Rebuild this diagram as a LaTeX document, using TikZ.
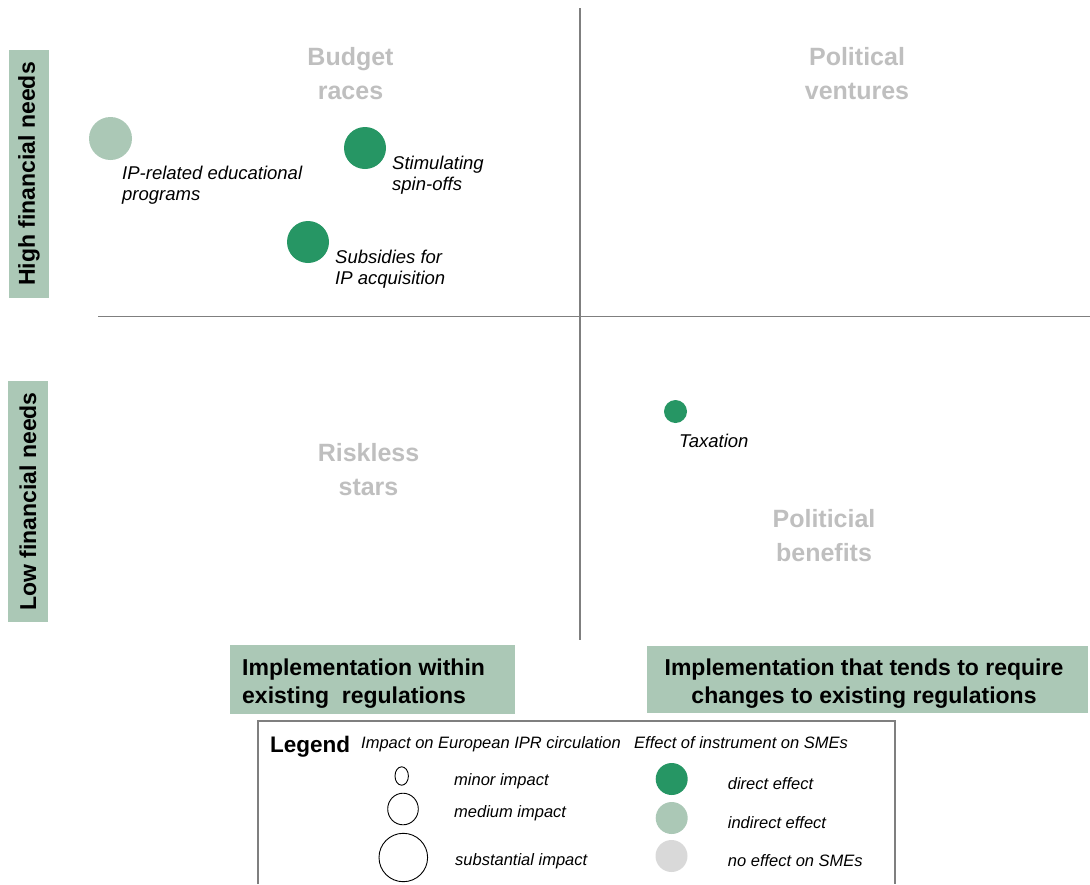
\documentclass[tikz,border=0pt]{standalone}
\usepackage{fontspec}
\setmainfont{Liberation Sans}
\usetikzlibrary{shapes.geometric}
\definecolor{darkgreen}{HTML}{269664}
\definecolor{boxgreen}{HTML}{ABC8B6}
\definecolor{nogray}{HTML}{D9D9D9}
\definecolor{titlegray}{HTML}{BFBFBF}
\definecolor{axisgray}{HTML}{7F7F7F}
\tikzset{
  dot/.style={circle, inner sep=0, draw=none},
  itlbl/.style={font=\fontsize{18.5}{21}\selectfont\itshape, anchor=base west, inner sep=0, align=left},
  quad/.style={font=\fontsize{25}{34}\selectfont\bfseries, text=titlegray, anchor=base, inner sep=0, align=center},
  sidebox/.style={fill=boxgreen, inner sep=0, rotate=90, font=\fontsize{23}{27}\selectfont\bfseries, minimum height=40},
  botbox/.style={fill=boxgreen, inner sep=0, anchor=north west},
  bottext/.style={font=\fontsize{23}{28}\selectfont\bfseries, inner sep=0},
  legit/.style={font=\fontsize{16.5}{19}\selectfont\itshape, anchor=base west, inner sep=0},
  ring/.style={ellipse, draw=black, line width=0.9, inner sep=0},
  axis/.style={draw=axisgray, line width=1.8},
}
\begin{document}
\begin{tikzpicture}[x=1pt,y=-1pt]
\useasboundingbox (0,0) rectangle (1090,884);
% axes
\coordinate (vtop) at (580,8);
\coordinate (vbot) at (580,640);
\coordinate (hl) at (98,316.5);
\coordinate (hr) at (1090,316.5);
\draw[axis] (vtop) -- (vbot);
\draw[axis] (hl) -- (hr);
% quadrant titles (anchor = baseline of last line)
\node[quad] (qbr) at (350.5,99.5) {Budget\\races};
\node[quad] (qpv) at (857,99.5) {Political\\ventures};
\node[quad] (qrs) at (368.5,495.5) {Riskless\\stars};
\node[quad] (qpb) at (824,561) {Politicial\\benefits};
% side labels
\node[sidebox, minimum width=248] (high) at (29,174) {High financial needs};
\node[sidebox, minimum width=241] (low) at (28,501.5) {Low financial needs};
% instruments
\node[dot, fill=boxgreen, minimum size=43] (edu) at (110.5,138.5) {};
\node[itlbl] (edut) at (122,200) {IP-related educational\\programs};
\node[dot, fill=darkgreen, minimum size=42] (spin) at (365,148) {};
\node[itlbl] (spint) at (392,190.5) {Stimulating\\spin-offs};
\node[dot, fill=darkgreen, minimum size=42] (subs) at (308,242) {};
\node[itlbl] (subst) at (335,284.5) {Subsidies for\\IP acquisition};
\node[dot, fill=darkgreen, minimum size=23] (tax) at (675.5,411.5) {};
\node[itlbl] (taxt) at (679,447) {Taxation};
% bottom boxes
\node[botbox, minimum width=285, minimum height=69] (bl) at (230,645) {};
\node[bottext, anchor=base west, align=left] (blt) at (242,703) {Implementation within\\existing\ \ regulations};
\node[botbox, minimum width=441, minimum height=67] (br) at (647,646) {};
\node[bottext, anchor=base, align=center] (brt) at (864,703) {Implementation that tends to require\\changes to existing regulations};
% legend frame
\coordinate (lg1) at (258,884);
\coordinate (lg2) at (258,721);
\coordinate (lg3) at (895,721);
\coordinate (lg4) at (895,884);
\draw[draw=axisgray, line width=1.5] (lg1) -- (lg2) -- (lg3) -- (lg4);
\node[font=\fontsize{22.5}{26}\selectfont\bfseries, anchor=base west, inner sep=0] (leg) at (270,752.5) {Legend};
\node[legit] (legimp) at (361,748) {Impact on European IPR circulation};
\node[legit] (legeff) at (634,748) {Effect of instrument on SMEs};
\node[ring, minimum width=13.4, minimum height=18.4] (rmin) at (401.7,776) {};
\node[legit] (tmin) at (454,785) {minor impact};
\node[ring, minimum width=30.6, minimum height=31.6] (rmed) at (403,809) {};
\node[legit] (tmed) at (454,817) {medium impact};
\node[ring, minimum width=48.6, minimum height=48.4] (rsub) at (403.3,857.5) {};
\node[legit] (tsub) at (455,865) {substantial impact};
\node[dot, fill=darkgreen, minimum width=32, minimum height=32] (cdir) at (671.7,779) {};
\node[legit] (tdir) at (727.7,789) {direct effect};
\node[dot, fill=boxgreen, minimum size=32] (cind) at (671.7,818) {};
\node[legit] (tind) at (727.7,828) {indirect effect};
\node[dot, fill=nogray, minimum size=32] (cno) at (671.5,856) {};
\node[legit] (tno) at (727.7,866) {no effect on SMEs};
\end{tikzpicture}
\end{document}
